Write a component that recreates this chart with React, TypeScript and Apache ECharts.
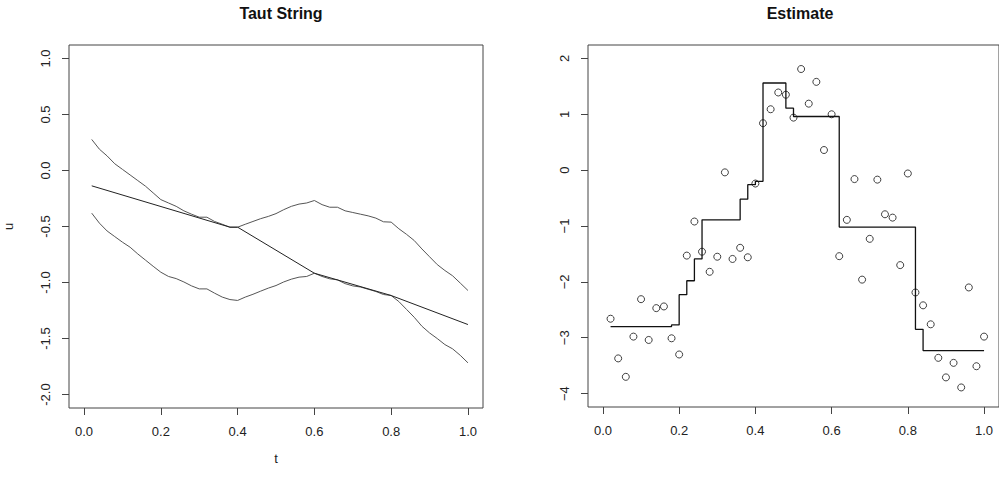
import React, { useEffect, useRef } from "react";
import * as echarts from "echarts";

// Sample positions t = 1/50 ... 50/50
const tGrid = [
  0.02, 0.04, 0.06, 0.08, 0.1, 0.12, 0.14, 0.16, 0.18, 0.2,
  0.22, 0.24, 0.26, 0.28, 0.3, 0.32, 0.34, 0.36, 0.38, 0.4,
  0.42, 0.44, 0.46, 0.48, 0.5, 0.52, 0.54, 0.56, 0.58, 0.6,
  0.62, 0.64, 0.66, 0.68, 0.7, 0.72, 0.74, 0.76, 0.78, 0.8,
  0.82, 0.84, 0.86, 0.88, 0.9, 0.92, 0.94, 0.96, 0.98, 1.0,
];

// Tube around the cumulative sums (upper and lower bounds)
const tubeUpper = [
  0.277, 0.19, 0.13, 0.06, 0.01, -0.04, -0.09, -0.14, -0.2, -0.26,
  -0.29, -0.32, -0.36, -0.39, -0.417, -0.417, -0.455, -0.48, -0.506, -0.506,
  -0.48, -0.455, -0.43, -0.41, -0.385, -0.35, -0.32, -0.3, -0.29, -0.268,
  -0.305, -0.328, -0.328, -0.36, -0.375, -0.39, -0.405, -0.425, -0.458, -0.461,
  -0.52, -0.57, -0.625, -0.7, -0.77, -0.84, -0.893, -0.94, -1.005, -1.071,
];
const tubeLower = [
  -0.381, -0.47, -0.54, -0.59, -0.64, -0.685, -0.745, -0.8, -0.855, -0.908,
  -0.946, -0.965, -0.995, -1.03, -1.057, -1.057, -1.095, -1.13, -1.152, -1.16,
  -1.13, -1.105, -1.077, -1.05, -1.027, -0.995, -0.97, -0.952, -0.946, -0.917,
  -0.946, -0.967, -0.976, -1.01, -1.03, -1.04, -1.06, -1.08, -1.107, -1.116,
  -1.17, -1.24, -1.31, -1.39, -1.45, -1.5, -1.554, -1.592, -1.65, -1.717,
];

// Knots of the taut string
const stringT = [0.02, 0.38, 0.4, 0.6, 0.8, 1.0];
const stringU = [-0.137, -0.506, -0.506, -0.917, -1.116, -1.375];

// Observations
const observed = [
  -2.66, -3.37, -3.7, -2.98, -2.31, -3.04, -2.47, -2.44, -3.01, -3.3,
  -1.53, -0.92, -1.46, -1.82, -1.55, -0.04, -1.59, -1.39, -1.56, -0.24,
  0.84, 1.09, 1.39, 1.35, 0.94, 1.81, 1.19, 1.58, 0.36, 1.0,
  -1.54, -0.89, -0.16, -1.96, -1.23, -0.17, -0.79, -0.85, -1.7, -0.06,
  -2.19, -2.42, -2.76, -3.36, -3.71, -3.45, -3.89, -2.1, -3.51, -2.98,
];

// Piecewise-constant estimate (derivative of the string)
const estimate = [
  -2.8, -2.8, -2.8, -2.8, -2.8, -2.8, -2.8, -2.8, -2.77, -2.23,
  -1.98, -1.59, -0.89, -0.89, -0.89, -0.89, -0.89, -0.52, -0.26, -0.2,
  1.56, 1.56, 1.56, 1.11, 0.96, 0.96, 0.96, 0.96, 0.96, 0.96,
  -1.02, -1.02, -1.02, -1.02, -1.02, -1.02, -1.02, -1.02, -1.02, -1.02,
  -2.85, -3.23, -3.23, -3.23, -3.23, -3.23, -3.23, -3.23, -3.23, -3.23,
];

const xTicks = [0, 0.2, 0.4, 0.6, 0.8, 1.0];
const uTicks = [-2, -1.5, -1, -0.5, 0, 0.5, 1];
const estTicks = [-4, -3, -2, -1, 0, 1, 2];

const FONT = "'Liberation Sans', Arial, sans-serif";
const INK = "#222";
const FRAME = "#444";

const zip = (xs: number[], ys: number[]) => xs.map((x, i) => [x, ys[i]]);

function xAxisFor(gridIndex: number, name: string) {
  return {
    type: "value" as const,
    gridIndex,
    min: -0.0392,
    max: 1.0392,
    name,
    nameLocation: "middle" as const,
    nameGap: 44,
    nameTextStyle: { fontFamily: FONT, fontSize: 13, color: INK },
    axisLine: { show: false, onZero: false },
    splitLine: { show: false },
    axisTick: {
      show: true,
      inside: false,
      length: 7,
      customValues: xTicks,
      lineStyle: { color: FRAME, width: 1 },
    },
    axisLabel: {
      customValues: xTicks,
      margin: 17,
      fontFamily: FONT,
      fontSize: 13,
      color: INK,
      formatter: (v: number) => v.toFixed(1),
    },
  };
}

function yAxisFor(
  gridIndex: number,
  min: number,
  max: number,
  ticks: number[],
  name: string,
  fmt: (v: number) => string
) {
  return {
    type: "value" as const,
    gridIndex,
    min,
    max,
    name,
    nameLocation: "middle" as const,
    nameGap: 54,
    nameTextStyle: { fontFamily: FONT, fontSize: 13, color: INK },
    axisLine: { show: false, onZero: false },
    splitLine: { show: false },
    axisTick: { show: true, length: 7, customValues: ticks, lineStyle: { color: FRAME } },
    axisLabel: {
      customValues: ticks,
      rotate: 90,
      margin: 17,
      fontFamily: FONT,
      fontSize: 13,
      color: INK,
      formatter: fmt,
    },
  };
}

export default function App() {
  const ref = useRef<HTMLDivElement>(null);

  useEffect(() => {
    if (!ref.current) return;
    const chart = echarts.init(ref.current, null, { renderer: "svg" });

    const titleStyle = { fontFamily: FONT, fontSize: 16, fontWeight: "bold", color: "#111" };

    const option = {
      animation: false,
      backgroundColor: "#fff",
      title: [
        { text: "Taut String", left: 276, top: 0, textAlign: "center", textStyle: titleStyle },
        { text: "Estimate", left: 795, top: 0, textAlign: "center", textStyle: titleStyle },
      ],
      grid: [
        { left: 69, top: 45, width: 414, height: 363, show: true, borderColor: FRAME, borderWidth: 1, backgroundColor: "transparent" },
        { left: 588, top: 45, width: 415, height: 362, show: true, borderColor: FRAME, borderWidth: 1, backgroundColor: "transparent" },
      ],
      xAxis: [xAxisFor(0, "t"), xAxisFor(1, "")],
      yAxis: [
        yAxisFor(0, -2.12, 1.12, uTicks, "u", (v: number) => v.toFixed(1)),
        yAxisFor(1, -4.24, 2.24, estTicks, "", (v: number) =>
          v < 0 ? "\u2212" + Math.abs(v) : String(v)
        ),
      ],
      series: [
        {
          type: "line",
          xAxisIndex: 0,
          yAxisIndex: 0,
          data: zip(tGrid, tubeUpper),
          symbol: "none",
          lineStyle: { color: "#555", width: 1 },
        },
        {
          type: "line",
          xAxisIndex: 0,
          yAxisIndex: 0,
          data: zip(tGrid, tubeLower),
          symbol: "none",
          lineStyle: { color: "#555", width: 1 },
        },
        {
          type: "line",
          xAxisIndex: 0,
          yAxisIndex: 0,
          data: zip(stringT, stringU),
          symbol: "none",
          lineStyle: { color: "#222", width: 1 },
        },
        {
          type: "line",
          xAxisIndex: 1,
          yAxisIndex: 1,
          data: zip(tGrid, estimate),
          step: "end",
          symbol: "none",
          lineStyle: { color: "#111", width: 1.3 },
        },
        {
          type: "scatter",
          xAxisIndex: 1,
          yAxisIndex: 1,
          data: zip(tGrid, observed),
          symbol: "circle",
          symbolSize: 7,
          itemStyle: { color: "rgba(0,0,0,0)", borderColor: "#111", borderWidth: 1 },
        },
      ],
    };

    chart.setOption(option as any);
    return () => chart.dispose();
  }, []);

  return (
    <div
      ref={ref}
      style={{ position: "absolute", left: 0, top: 0, width: 999, height: 480, background: "#fff" }}
    />
  );
}
